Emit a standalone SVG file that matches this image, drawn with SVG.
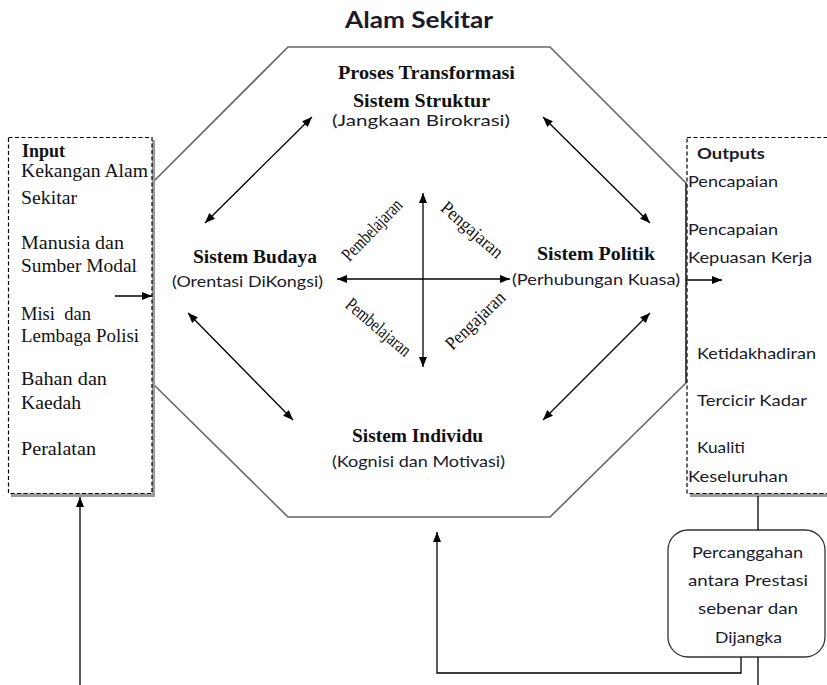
<svg xmlns="http://www.w3.org/2000/svg" width="827" height="685" viewBox="0 0 827 685">
<defs>
<marker id="ah" viewBox="0 0 10 8" refX="10" refY="4" markerWidth="10" markerHeight="8" markerUnits="userSpaceOnUse" orient="auto-start-reverse"><path d="M0,0 L10,4 L0,8 z" fill="#000"/></marker>
</defs>
<style>
.serif{font-family:"Liberation Serif","Times New Roman",serif;fill:#111}
.sans{font-family:Lato,"Open Sans",sans-serif;fill:#1a1a2a}
.bt{font-weight:bold;font-size:18.5px}
.sub{font-size:16px}
.in{font-size:18px}
.out{font-size:16px}
.rot{font-size:19px}
.ln{stroke:#000;stroke-width:1.3;fill:none}
.da{marker-start:url(#ah);marker-end:url(#ah)}
.sa{marker-end:url(#ah)}
.dash{fill:#fff;stroke:#000;stroke-width:1.2;stroke-dasharray:4 2.5}
.shadow{fill:#9a9a9a}
</style>
<rect width="827" height="685" fill="#fff"/>
<g id="title"><text class="sans" x="345" y="28" font-size="22" font-weight="bold" textLength="148" lengthAdjust="spacingAndGlyphs">Alam Sekitar</text></g>
<g id="octagon">
<polygon points="288,47 550,47 686,183 686,383 550,517 288,517 152,383 152,183" fill="#fff" stroke="#666" stroke-width="1.6"/>
<text class="serif bt" x="338" y="79" textLength="177" lengthAdjust="spacingAndGlyphs">Proses Transformasi</text>
</g>
<g id="input">
<rect class="shadow" x="11" y="140" width="144" height="357"/>
<rect class="dash" x="8.5" y="137.5" width="143.5" height="356"/>
<text class="serif in" x="22" y="157" font-weight="bold" textLength="43" lengthAdjust="spacingAndGlyphs">Input</text>
<text class="serif in" x="21" y="177" textLength="127" lengthAdjust="spacingAndGlyphs">Kekangan Alam</text>
<text class="serif in" x="21" y="204" textLength="56" lengthAdjust="spacingAndGlyphs">Sekitar</text>
<text class="serif in" x="21" y="249" textLength="103" lengthAdjust="spacingAndGlyphs">Manusia dan</text>
<text class="serif in" x="21" y="272" textLength="116" lengthAdjust="spacingAndGlyphs">Sumber Modal</text>
<text class="serif in" x="21" y="320" textLength="70" lengthAdjust="spacingAndGlyphs" xml:space="preserve">Misi  dan</text>
<text class="serif in" x="21" y="342" textLength="118" lengthAdjust="spacingAndGlyphs">Lembaga Polisi</text>
<text class="serif in" x="21" y="385" textLength="86" lengthAdjust="spacingAndGlyphs">Bahan dan</text>
<text class="serif in" x="21" y="409" textLength="60" lengthAdjust="spacingAndGlyphs">Kaedah</text>
<text class="serif in" x="21" y="455" textLength="75" lengthAdjust="spacingAndGlyphs">Peralatan</text>
</g>
<g id="outputs">
<rect class="shadow" x="690" y="140" width="160" height="357"/>
<rect class="dash" x="687" y="137.5" width="160" height="356"/>
<line x1="686" y1="183" x2="686" y2="383" stroke="#333" stroke-width="1.4"/>
<text class="sans out" x="697" y="159" font-weight="bold" textLength="68" lengthAdjust="spacingAndGlyphs">Outputs</text>
<text class="sans out" x="688" y="187" textLength="90" lengthAdjust="spacingAndGlyphs">Pencapaian</text>
<text class="sans out" x="688" y="235" textLength="90" lengthAdjust="spacingAndGlyphs">Pencapaian</text>
<text class="sans out" x="688" y="263" textLength="124" lengthAdjust="spacingAndGlyphs">Kepuasan Kerja</text>
<text class="sans out" x="697" y="359" textLength="119" lengthAdjust="spacingAndGlyphs">Ketidakhadiran</text>
<text class="sans out" x="697" y="406" textLength="110" lengthAdjust="spacingAndGlyphs">Tercicir Kadar</text>
<text class="sans out" x="697" y="453" textLength="48" lengthAdjust="spacingAndGlyphs">Kualiti</text>
<text class="sans out" x="688" y="482" textLength="100" lengthAdjust="spacingAndGlyphs">Keseluruhan</text>
</g>
<g id="struktur">
<text class="serif bt" x="353" y="107" textLength="137" lengthAdjust="spacingAndGlyphs">Sistem Struktur</text>
<text class="sans sub" x="332" y="126" textLength="178" lengthAdjust="spacingAndGlyphs">(Jangkaan Birokrasi)</text>
</g>
<g id="budaya">
<text class="serif bt" x="193" y="263" textLength="124" lengthAdjust="spacingAndGlyphs">Sistem Budaya</text>
<text class="sans sub" x="172" y="287" textLength="151" lengthAdjust="spacingAndGlyphs">(Orentasi DiKongsi)</text>
</g>
<g id="politik">
<text class="serif bt" x="537" y="260" textLength="118" lengthAdjust="spacingAndGlyphs">Sistem Politik</text>
<text class="sans sub" x="512" y="285" textLength="168" lengthAdjust="spacingAndGlyphs">(Perhubungan Kuasa)</text>
</g>
<g id="individu">
<text class="serif bt" x="352" y="442" textLength="131" lengthAdjust="spacingAndGlyphs">Sistem Individu</text>
<text class="sans sub" x="332" y="467" textLength="173" lengthAdjust="spacingAndGlyphs">(Kognisi dan Motivasi)</text>
</g>
<g id="percanggahan">
<rect x="668" y="530" width="157" height="127" rx="20" fill="#fff" stroke="#333" stroke-width="1.3"/>
<text class="sans out" x="692" y="558" textLength="111" lengthAdjust="spacingAndGlyphs">Percanggahan</text>
<text class="sans out" x="688" y="586" textLength="120" lengthAdjust="spacingAndGlyphs">antara Prestasi</text>
<text class="sans out" x="698" y="614" textLength="100" lengthAdjust="spacingAndGlyphs">sebenar dan</text>
<text class="sans out" x="715" y="643" textLength="67" lengthAdjust="spacingAndGlyphs">Dijangka</text>
</g>
<g id="labels">
<g transform="translate(372,230) rotate(-46)"><text class="serif rot" x="-39" y="6" textLength="78" lengthAdjust="spacingAndGlyphs">Pembelajaran</text></g>
<g transform="translate(472,230) rotate(41)"><text class="serif rot" x="-38" y="6" textLength="76" lengthAdjust="spacingAndGlyphs">Pengajaran</text></g>
<g transform="translate(378,327) rotate(40)"><text class="serif rot" x="-39" y="6" textLength="79" lengthAdjust="spacingAndGlyphs">Pembelajaran</text></g>
<g transform="translate(475,321) rotate(-44)"><text class="serif rot" x="-37" y="6" textLength="75" lengthAdjust="spacingAndGlyphs">Pengajaran</text></g>
</g>
<g id="connectors">
<line class="ln da" x1="205" y1="223" x2="312" y2="117"/>
<line class="ln da" x1="543" y1="117" x2="650" y2="223"/>
<line class="ln da" x1="188" y1="313" x2="293" y2="420"/>
<line class="ln da" x1="650" y1="313" x2="543" y2="420"/>
<line class="ln da" x1="423" y1="193" x2="423" y2="367"/>
<line class="ln da" x1="337" y1="279" x2="510" y2="279"/>
<line class="ln sa" x1="115" y1="296" x2="152" y2="296"/>
<line class="ln sa" x1="686" y1="280" x2="722" y2="280"/>
<line class="ln sa" x1="80" y1="685" x2="80" y2="497"/>
<line class="ln" x1="758" y1="496" x2="758" y2="530"/>
<line class="ln" x1="758" y1="657" x2="758" y2="685"/>
<polyline class="ln sa" points="741,657 741,673 437,673 437,532"/>
</g>
</svg>
